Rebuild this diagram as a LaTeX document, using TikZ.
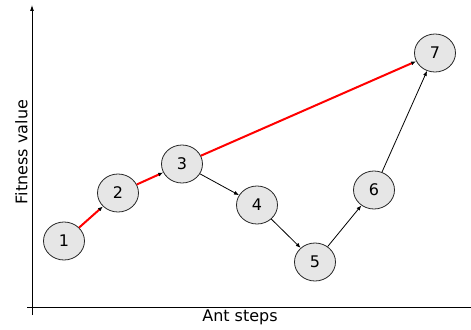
\documentclass[tikz,border=0pt]{standalone}
\usepackage{fontspec}
\setmainfont{DejaVu Sans}
\usepackage{tikz}
\usetikzlibrary{
        arrows.meta,
        shapes,
        shapes.geometric
    }
\definecolor{stepgray}{RGB}{230,230,230}
\tikzset{x=1bp,y=1bp,font=\fontsize{16bp}{19bp}\selectfont}
\tikzset{antstate/.style={ellipse,draw=black!85,fill=stepgray,line width=0.8bp,
        minimum width=41bp,minimum height=38bp,inner sep=0pt}}
\tikzset{antedge/.style={-{Latex[length=5bp,width=4bp]},line width=0.8bp}}
\tikzset{bestedge/.style={-{Latex[length=5bp,width=4bp,black]},red,line width=2bp}}

\begin{document}
\begin{tikzpicture}
                \useasboundingbox (0,0) rectangle (471,329);
                % axes
                \coordinate (o)  at (32,22);
                \coordinate (xl) at (27,22);
                \coordinate (xr) at (471,22);
                \coordinate (yb) at (32,14);
                \coordinate (yt) at (32,324);
                \draw[line width=0.8bp] (xl) -- (xr);
                \draw[line width=0.8bp,-{Latex[length=6bp,width=4bp]}] (yb) -- (yt);
                \node (xlab) at (240,12) {Ant steps};
                \node[rotate=90] (ylab) at (21.5,177) {Fitness value};
                % states
                \node[antstate] (s1) at (64,88)   {1};
                \node[antstate] (s2) at (118,136) {2};
                \node[antstate] (s3) at (182,165) {3};
                \node[antstate] (s4) at (257,124) {4};
                \node[antstate] (s5) at (315,67)  {5};
                \node[antstate] (s6) at (374,139) {6};
                \node[antstate] (s7) at (435,276) {7};
                \path
                    (s1) edge[bestedge] (s2)
                    (s2) edge[bestedge] (s3)
                    (s3) edge[bestedge] (s7)
                    (s3) edge[antedge] (s4)
                    (s4) edge[antedge] (s5)
                    (s5) edge[antedge] (s6)
                    (s6) edge[antedge] (s7)
                    ;
            \end{tikzpicture}
\end{document}
